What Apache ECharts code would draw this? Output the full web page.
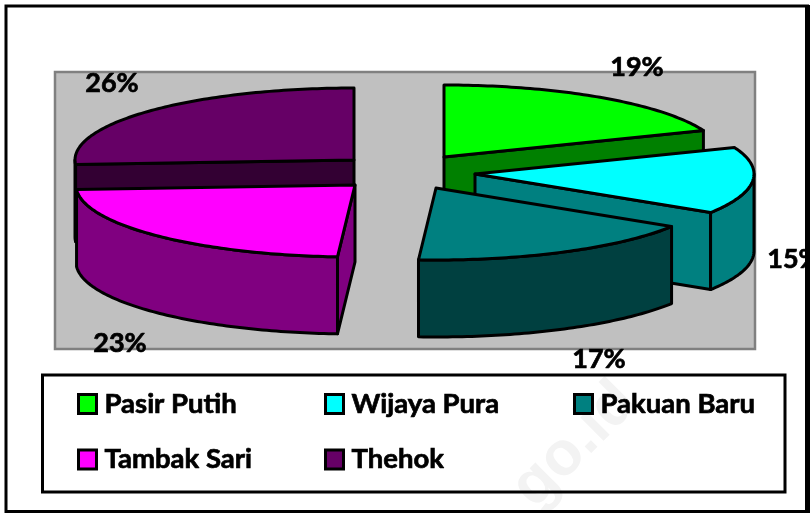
<!DOCTYPE html>
<html>
<head>
<meta charset="utf-8">
<style>
html, body { margin: 0; padding: 0; background: #fff; }
#main { width: 810px; height: 513px; }
</style>
<script src="https://cdn.jsdelivr.net/npm/echarts@6/dist/echarts.min.js"></script>
</head>
<body>
<div id="main"></div>
<script>
// chart data
var names = ['Pasir Putih', 'Wijaya Pura', 'Pakuan Baru', 'Tambak Sari', 'Thehok'];
var values = [19, 15, 17, 23, 26];

// styles per slice
var topColors = ['#00ff00', '#00ffff', '#008080', '#ff00ff', '#660066'];
var sideColors = ['#008000', '#008080', '#004040', '#800080', '#330033'];
var drawOrder = [1, 2, 3, 2, 1];

// layout: pie centre, explode offset per slice, label anchor per slice
var pieX = 400, pieY = 172, rx = 279, ry = 72, depth = 77;
var explodeX = [44, 75, 36, -45, -46];
var explodeY = [-15, 2, 16, 13, -12];
var labelX = [637, 794, 599, 120, 112];
var labelY = [67, 259, 359, 343, 83];

var font = '"Lato", "Noto Sans", sans-serif';
var total = values.reduce(function (a, b) { return a + b; }, 0);

function rad(deg) { return deg * Math.PI / 180; }

function renderSlice(i, params, api) {
    var before = 0;
    for (var k = 0; k < i; k++) before += values[k];
    var a0 = before / total * 360;
    var a1 = (before + api.value(0)) / total * 360;
    var cx = pieX + explodeX[i], cy = pieY + explodeY[i];

    function pt(a, drop) {
        return [cx + rx * Math.sin(rad(a)), cy - ry * Math.cos(rad(a)) + (drop || 0)];
    }
    var line = { stroke: '#000', lineWidth: 3, lineJoin: 'round' };
    function poly(points, fill) {
        return { type: 'polygon', shape: { points: points }, style: Object.assign({ fill: fill }, line) };
    }
    function radialFace(a) {
        return poly([[cx, cy], pt(a), pt(a, depth), [cx, cy + depth]], sideColors[i]);
    }

    var children = [];
    if (Math.sin(rad(a0)) < -0.001) children.push(radialFace(a0));
    if (Math.sin(rad(a1)) > 0.001) children.push(radialFace(a1));

    // outer wall only where it faces the viewer
    var w0 = Math.max(a0, 90), w1 = Math.min(a1, 270);
    if (w1 > w0) {
        var wall = [], a;
        for (a = w0; a < w1; a += 1) wall.push(pt(a));
        wall.push(pt(w1));
        wall.push(pt(w1, depth));
        for (a = w1; a > w0; a -= 1) wall.push(pt(a, depth));
        wall.push(pt(w0, depth));
        children.push(poly(wall, sideColors[i]));
    }

    var top = [[cx, cy]];
    for (var b = a0; b < a1; b += 1) top.push(pt(b));
    top.push(pt(a1));
    children.push(poly(top, topColors[i]));

    children.push({
        type: 'text',
        style: {
            text: api.value(0) + '%',
            x: labelX[i],
            y: labelY[i],
            font: 'bold 27px ' + font,
            fill: '#000',
            stroke: '#000',
            lineWidth: 0.7,
            textAlign: 'center',
            textVerticalAlign: 'middle'
        }
    });
    return { type: 'group', children: children };
}

var series = names.map(function (name, i) {
    return {
        type: 'custom',
        name: name,
        coordinateSystem: 'none',
        z: 2 + drawOrder[i],
        itemStyle: { color: topColors[i] },
        data: [values[i]],
        renderItem: function (params, api) { return renderSlice(i, params, api); }
    };
});

// the legend runs in three columns, so one vertical legend per column
function legendColumn(left, items) {
    return {
        orient: 'vertical',
        left: left,
        top: 386,
        icon: 'rect',
        itemWidth: 18,
        itemHeight: 19,
        itemGap: 19.5,
        padding: 0,
        data: items,
        itemStyle: { borderColor: '#000', borderWidth: 3 },
        textStyle: {
            color: '#000', fontFamily: font, fontWeight: 'bold', fontSize: 27.5, lineHeight: 30,
            textBorderColor: '#000', textBorderWidth: 0.7, padding: [6, 0, 0, 3]
        }
    };
}

var chart = echarts.init(document.getElementById('main'), null, { renderer: 'canvas' });
chart.setOption({
    animation: false,
    backgroundColor: '#fff',
    legend: [
        legendColumn(77, [names[0], names[3]]),
        legendColumn(324, [names[1], names[4]]),
        legendColumn(573, [names[2]])
    ],
    graphic: [
        { type: 'rect', z: 0, shape: { x: 55, y: 72, width: 700, height: 277 },
          style: { fill: '#c0c0c0', stroke: '#808080', lineWidth: 2.5 } },
        { type: 'text', z: 0, x: 575, y: 445, rotation: Math.PI / 4,
          style: { text: 'go.id', font: 'bold 62px "Liberation Sans", sans-serif', fill: '#f3f3f3', textAlign: 'center', textVerticalAlign: 'middle' } },
        { type: 'rect', z: 0, shape: { x: 6, y: 6, width: 801.5, height: 505.5 },
          style: { fill: 'none', stroke: '#000', lineWidth: 3 } },
        { type: 'line', z: 0, shape: { x1: 807.5, y1: 5, x2: 807.5, y2: 513 },
          style: { stroke: '#000', lineWidth: 5 } },
        { type: 'rect', z: 0, shape: { x: 42.5, y: 375, width: 742.5, height: 117 },
          style: { fill: 'none', stroke: '#000', lineWidth: 3 } }
    ],
    series: series
});
</script>
</body>
</html>
